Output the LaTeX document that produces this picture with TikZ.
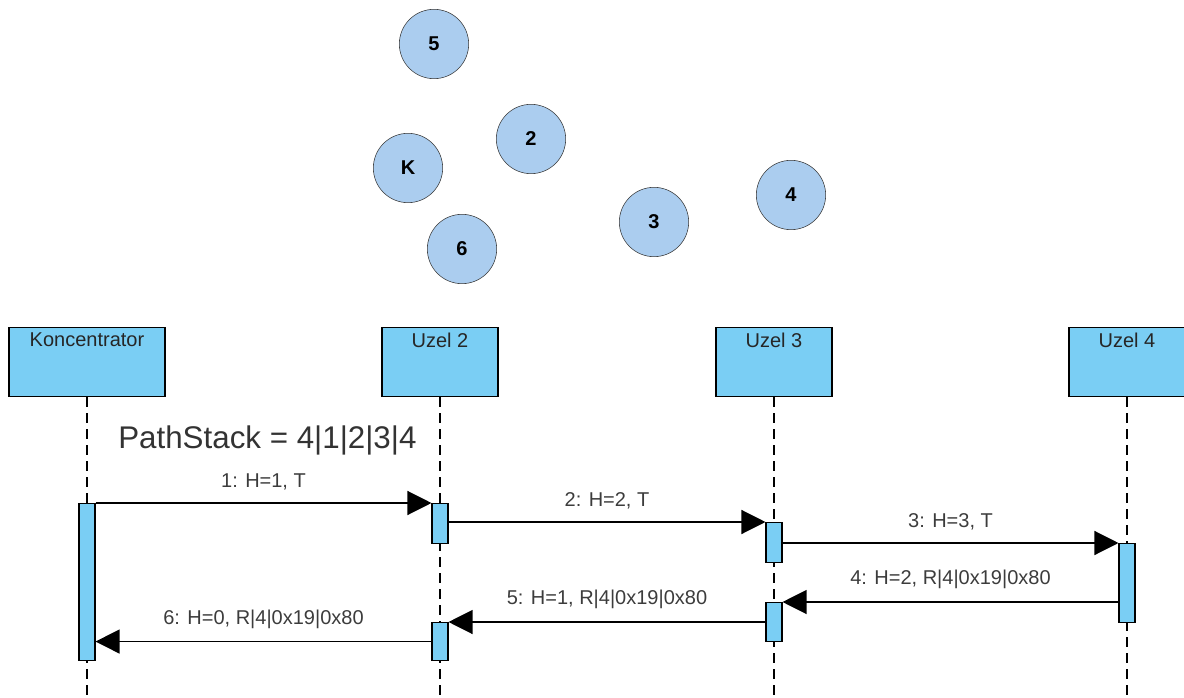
\documentclass[tikz,border=0pt]{standalone}
\usepackage{fontspec}
\setmainfont{Liberation Sans}
\usetikzlibrary{arrows.meta}
\usetikzlibrary{positioning}

\definecolor{nodeblue}{RGB}{171,205,239}
\definecolor{lifeblue}{RGB}{122,206,244}
\definecolor{msggray}{RGB}{60,60,60}

\begin{document}
\begin{tikzpicture}[x=0.75pt,y=-0.75pt]
  \tikzset{station/.style = {shape=circle,draw=black!80,fill=nodeblue,minimum size=52pt,inner sep=0pt,font=\fontsize{15}{18}\selectfont\bfseries}}
  \tikzset{lifehead/.style = {shape=rectangle,draw,fill=lifeblue,minimum height=52pt,anchor=north,line width=0.8pt}}
  \tikzset{lifetext/.style = {text=black!85,font=\fontsize{15}{18}\selectfont,anchor=north,yshift=-1pt}}
  \tikzset{actbar/.style = {shape=rectangle,draw,fill=lifeblue,minimum width=12pt,anchor=north,inner sep=0pt,line width=0.8pt}}
  \tikzset{lifeline/.style = {dash pattern=on 7.5pt off 4.5pt,line width=0.8pt}}
  \tikzset{msgtext/.style = {above=6pt,text=msggray,font=\fontsize{15}{18}\selectfont}}
  \tikzset{%
  tipA/.tip={Triangle[length=18pt,width=18pt]},
}
  \useasboundingbox (0,0) rectangle (1184,698);

  % network
	\node[station] (N5) at (434,44) {5};
	\node[station] (N2) at (531,139) {2};
	\node[station] (NK) at (408,168) {K};
	\node[station] (N6) at (462,249) {6};
	\node[station] (N3) at (654,222) {3};
	\node[station] (N4) at (791,195) {4};

  % lifelines
	\node[lifehead,minimum width=117pt,label={[lifetext]north:Koncentrator}] (K) at (87,327) {};
	\node[lifehead,minimum width=87pt,label={[lifetext]north:Uzel 2}] (U2) at (440,327) {};
	\node[lifehead,minimum width=87pt,label={[lifetext]north:Uzel 3}] (U3) at (774,327) {};
	\node[lifehead,minimum width=87pt,label={[lifetext]north:Uzel 4}] (U4) at (1127,327) {};

	\coordinate (Kend) at (87,698);
	\coordinate (U2end) at (440,698);
	\coordinate (U3end) at (774,698);
	\coordinate (U4end) at (1127,698);

    \foreach \from/\to in {K/Kend, U2/U2end, U3/U3end, U4/U4end}
    \draw[lifeline] (\from) -- (\to);

	\node[anchor=base west,inner sep=0pt,text=black!80,font=\fontsize{23.5}{28}\selectfont] (PS) at (118,448) {PathStack = 4|1|2|3|4};

  % activations
	\node[actbar,minimum height=117.75pt] (Kb) at (87,503) {};
	\node[actbar,minimum height=30pt] (U2a) at (440,503) {};
	\node[actbar,minimum height=30pt] (U3a) at (774,522) {};
	\node[actbar,minimum height=59.25pt] (U4a) at (1127,543) {};
	\node[actbar,minimum height=29.25pt] (U3b) at (774,602) {};
	\node[actbar,minimum height=28.5pt] (U2b) at (440,622) {};

  % messages
    \draw[-tipA,line width=0.9pt] (Kb.north east) -- node[msgtext] {1: H=1, T} (U2a.north west);
    \draw[-tipA,line width=0.9pt] (U2a.east |- U3a.north) -- node[msgtext] {2: H=2, T} (U3a.north west);
    \draw[-tipA,line width=0.9pt] (U3a.east |- U4a.north) -- node[msgtext] {3: H=3, T} (U4a.north west);
    \draw[-tipA,line width=0.9pt] (U4a.west |- U3b.north) -- node[msgtext] {4: H=2, R|4|0x19|0x80} (U3b.north east);
    \draw[-tipA,line width=0.9pt] (U3b.west |- U2b.north) -- node[msgtext] {5: H=1, R|4|0x19|0x80} (U2b.north east);
    \draw[-tipA,line width=0.9pt] (U2b.west) -- node[msgtext] {6: H=0, R|4|0x19|0x80} (Kb.east |- U2b.west);

\end{tikzpicture}
\end{document}
